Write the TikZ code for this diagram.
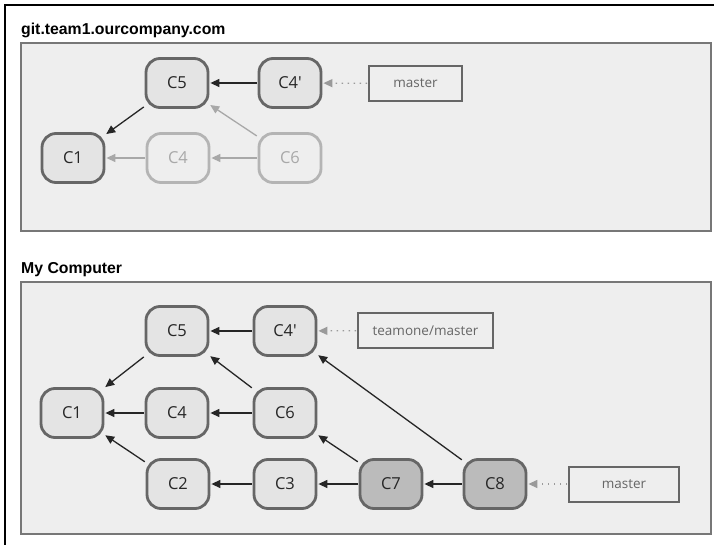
\documentclass[tikz,border=0pt]{standalone}
\usepackage{fontspec}
\setmainfont{Liberation Sans}
\newfontfamily\nodefont{Open Sans}
\usetikzlibrary{arrows.meta}
\definecolor{panelfill}{HTML}{EEEEEE}
\definecolor{paneldraw}{HTML}{777777}
\definecolor{commitfill}{HTML}{E4E4E4}
\definecolor{commitdraw}{HTML}{666666}
\definecolor{newfill}{HTML}{BBBBBB}
\definecolor{fadedraw}{HTML}{B4B4B4}
\definecolor{fadetext}{HTML}{A8A8A8}
\definecolor{labeltext}{HTML}{666666}
\definecolor{dotgrey}{HTML}{9A9A9A}
\tikzset{
  panel/.style={fill=panelfill, draw=paneldraw, line width=2pt},
  title/.style={anchor=base west, inner sep=0pt, font=\fontsize{15.8}{18}\selectfont\bfseries},
  commit/.style={draw=commitdraw, fill=commitfill, line width=2.8pt, rounded corners=14pt,
    minimum width=62pt, minimum height=49pt, inner sep=0pt, text=black!85,
    font=\nodefont\fontsize{16.5}{18}\selectfont},
  newcommit/.style={commit, fill=newfill},
  fadecommit/.style={commit, draw=fadedraw, fill=panelfill, text=fadetext},
  branch/.style={draw=commitdraw, fill=panelfill, line width=2pt, minimum height=35pt,
    inner sep=0pt, text=labeltext, font=\nodefont\fontsize{13.5}{16}\selectfont},
  parent/.style={-{Triangle[length=9pt,width=8pt]}, line width=1.3pt, black!85, shorten >=1pt, shorten <=1pt},
  fadeparent/.style={parent, fadetext},
  ref/.style={-{Triangle[length=9pt,width=8pt]}, line width=1.3pt, dotgrey,
    dash pattern=on 1.5pt off 4.5pt, shorten >=1pt, shorten <=1pt}
}
\begin{document}
\begin{tikzpicture}[x=1pt,y=-1pt]
\useasboundingbox (0,0) rectangle (714,545);
% outer frame (cropped)
\draw[line width=1.3pt, black] (5,545) -- (5,5) -- (714,5);
% panels
\draw[panel] (21,43) rectangle (711,231);
\draw[panel] (21,282) rectangle (711,534);
\node[title] (t1) at (21,35) {git.team1.ourcompany.com};
\node[title] (t2) at (21,273) {My Computer};
% server
\node[commit] (sC5) at (177,83) {C5};
\node[commit] (sC4p) at (290,83) {C4'};
\node[branch, minimum width=93pt] (smaster) at (415.5,83.5) {master};
\node[commit] (sC1) at (73,158) {C1};
\node[fadecommit] (sC4) at (178,158) {C4};
\node[fadecommit] (sC6) at (290,158) {C6};
\draw[parent] (sC4p) -- (sC5);
\draw[parent] (sC5) -- (sC1);
\draw[fadeparent] (sC4) -- (sC1);
\draw[fadeparent] (sC6) -- (sC4);
\draw[fadeparent] (sC6) -- (sC5);
\draw[ref] (smaster) -- (sC4p);
% my computer
\node[commit] (C5) at (177,331) {C5};
\node[commit] (C4p) at (285,331) {C4'};
\node[branch, minimum width=135pt] (tmaster) at (425.5,330.5) {teamone/master};
\node[commit] (C1) at (72,413) {C1};
\node[commit] (C4) at (177,413) {C4};
\node[commit] (C6) at (285,413) {C6};
\node[commit] (C2) at (178,484) {C2};
\node[commit] (C3) at (285,484) {C3};
\node[newcommit] (C7) at (391,484) {C7};
\node[newcommit] (C8) at (495,484) {C8};
\node[branch, minimum width=110pt] (master) at (624,484) {master};
\draw[parent] (C4p) -- (C5);
\draw[parent] (C5) -- (C1);
\draw[parent] (C4) -- (C1);
\draw[parent] (C6) -- (C4);
\draw[parent] (C6) -- (C5);
\draw[parent] (C2) -- (C1);
\draw[parent] (C3) -- (C2);
\draw[parent] (C7) -- (C3);
\draw[parent] (C7) -- (C6);
\draw[parent] (C8) -- (C7);
\draw[parent] (C8) -- (C4p);
\draw[ref] (tmaster) -- (C4p);
\draw[ref] (master) -- (C8);
\end{tikzpicture}
\end{document}
